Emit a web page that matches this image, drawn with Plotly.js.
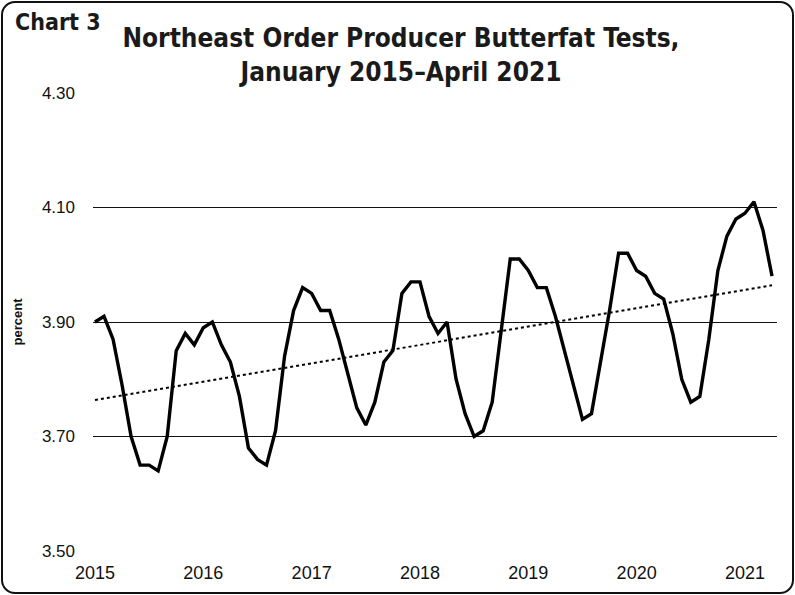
<!DOCTYPE html>
<html>
<head>
<meta charset="utf-8">
<script src="https://cdn.plot.ly/plotly-3.0.1.min.js"></script>
<style>
  html, body { margin: 0; padding: 0; background: #fff; }
  #frame { position: absolute; left: 1px; top: 1px; width: 789px; height: 589px;
           border: 2px solid #111; border-radius: 14px; box-sizing: content-box; }
  #chart { position: absolute; left: 0; top: 0; width: 795px; height: 595px; }
</style>
</head>
<body>
<div id="chart"></div>
<div id="frame"></div>
<script>
// Monthly Northeast Order producer butterfat tests, Jan 2015 - Apr 2021 (percent)
const years = [2015, 2016, 2017, 2018, 2019, 2020, 2021];
const butterfat = [
  // 2015
  3.90, 3.91, 3.87, 3.79, 3.70, 3.65, 3.65, 3.64, 3.70, 3.85, 3.88, 3.86,
  // 2016
  3.89, 3.90, 3.86, 3.83, 3.77, 3.68, 3.66, 3.65, 3.71, 3.84, 3.92, 3.96,
  // 2017
  3.95, 3.92, 3.92, 3.87, 3.81, 3.75, 3.72, 3.76, 3.83, 3.85, 3.95, 3.97,
  // 2018
  3.97, 3.91, 3.88, 3.90, 3.80, 3.74, 3.70, 3.71, 3.76, 3.88, 4.01, 4.01,
  // 2019
  3.99, 3.96, 3.96, 3.91, 3.85, 3.79, 3.73, 3.74, 3.83, 3.92, 4.02, 4.02,
  // 2020
  3.99, 3.98, 3.95, 3.94, 3.88, 3.80, 3.76, 3.77, 3.87, 3.99, 4.05, 4.08,
  // 2021
  4.09, 4.11, 4.06, 3.98
];
const yTicks = [3.50, 3.70, 3.90, 4.10, 4.30];

// month index axis
const monthIdx = butterfat.map((_, i) => i);
const yearTickVals = years.map((y) => (y - years[0]) * 12);

// linear trend (least squares) of the series
const n = butterfat.length;
const mx = monthIdx.reduce((a, b) => a + b, 0) / n;
const my = butterfat.reduce((a, b) => a + b, 0) / n;
let sxy = 0, sxx = 0;
for (let i = 0; i < n; i++) { sxy += (monthIdx[i] - mx) * (butterfat[i] - my); sxx += (monthIdx[i] - mx) ** 2; }
const slope = sxy / sxx, intercept = my - slope * mx;
const trendX = [monthIdx[0], monthIdx[n - 1]];
const trendY = trendX.map((x) => intercept + slope * x);

const traces = [
  { x: trendX, y: trendY, type: 'scatter', mode: 'lines',
    line: { color: '#000', width: 2, dash: 'dot' }, hoverinfo: 'skip' },
  { x: monthIdx, y: butterfat, type: 'scatter', mode: 'lines',
    line: { color: '#000', width: 3.4 } }
];

const layout = {
  width: 795, height: 595,
  margin: { l: 93, r: 18, t: 93, b: 44 },
  paper_bgcolor: '#fff', plot_bgcolor: '#fff',
  showlegend: false,
  font: { family: 'Liberation Sans, Arial, sans-serif', color: '#111', size: 17 },
  title: {
    text: '<b>Northeast Order Producer Butterfat Tests,<br>January 2015\u2013April 2021</b>',
    font: { family: 'DejaVu Sans Condensed, DejaVu Sans, sans-serif', size: 26, color: '#1a1a1a' },
    x: 401 / 795, xanchor: 'center', xref: 'container',
    y: 1 - 47 / 595, yanchor: 'top', yref: 'container'
  },
  annotations: [
    { text: '<b>Chart 3</b>', xref: 'paper', yref: 'paper', x: (13 - 93) / 684, xanchor: 'left',
      y: 1 + (93 - 22) / 458, yanchor: 'middle', showarrow: false,
      font: { family: 'DejaVu Sans Condensed, DejaVu Sans, sans-serif', size: 23, color: '#1a1a1a' } }
  ],
  xaxis: {
    range: [-0.22, 75.55],
    tickmode: 'array', tickvals: yearTickVals, ticktext: years.map(String),
    showgrid: false, zeroline: false, showline: false, ticks: '',
    ticklabelstandoff: 9,
    tickfont: { size: 18, color: '#111' }
  },
  yaxis: {
    range: [3.5, 4.3],
    tickmode: 'array', tickvals: yTicks, ticktext: yTicks.map((v) => v.toFixed(2)),
    showgrid: true, gridcolor: '#111', gridwidth: 1,
    zeroline: false, showline: false, ticks: '', ticklen: 0,
    ticklabelstandoff: 17,
    tickfont: { size: 17, color: '#111' },
    title: { text: '<b>percent</b>', font: { size: 13, color: '#111' }, standoff: 16 }
  }
};

Plotly.newPlot('chart', traces, layout, { staticPlot: true, displayModeBar: false });
</script>
</body>
</html>
